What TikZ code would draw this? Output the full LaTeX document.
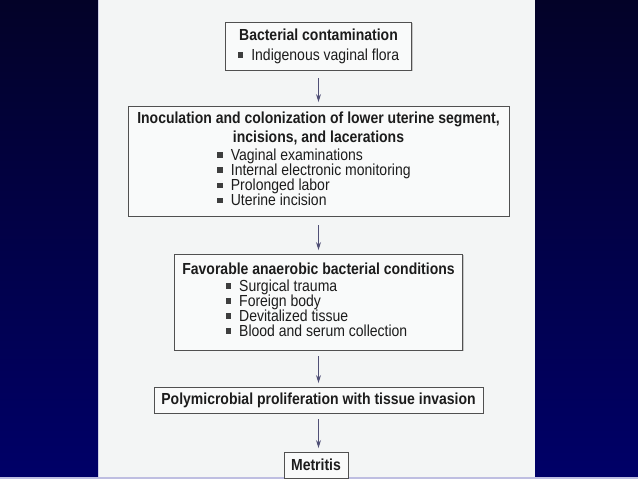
\documentclass[tikz,border=0pt]{standalone}
\usepackage{fontspec}
\setmainfont{Liberation Sans}[FakeStretch=0.875]
\usetikzlibrary{arrows.meta,shadows}
\definecolor{pagec}{RGB}{243,245,245}
\definecolor{boxfill}{RGB}{249,250,250}
\definecolor{boxline}{RGB}{80,80,80}
\definecolor{txt}{RGB}{28,28,28}
\definecolor{arr}{RGB}{80,80,118}
\definecolor{bgtop}{RGB}{3,2,40}
\definecolor{bgbot}{RGB}{0,0,104}
\definecolor{edgec}{RGB}{190,190,225}
\newcommand{\bul}{\textcolor{txt!85}{\rule[2.5pt]{5.5pt}{5.5pt}}\hspace{8pt}}
\newcommand{\li}[1]{\smash{\bul #1}}
\tikzset{
  flowbox/.style={draw=boxline, line width=0.9pt, fill=boxfill, inner sep=0pt,
    align=center, text=txt, font=\fontsize{16}{14}\selectfont,
    drop shadow={shadow xshift=1.2pt, shadow yshift=-1.2pt, fill=black!40, opacity=0.5}},
  flowarrow/.style={draw=arr, line width=0.9pt, -{Stealth[length=8pt,width=5pt]},
    shorten <=6pt, shorten >=3.5pt}
}
\begin{document}
\begin{tikzpicture}[x=1pt,y=-1pt]
\useasboundingbox (0,0) rectangle (638,479);
\shade[top color=bgtop,bottom color=bgbot] (0,0) rectangle (638,479);
\fill[pagec] (98,0) rectangle (535,476.5);
\fill[edgec] (0,476.5) rectangle (638,479);
\draw[edgec!70!pagec, line width=0.8pt] (98.4,0) -- (98.4,476.5);

\node[flowbox, minimum width=186pt, minimum height=48pt] (b1) at (318.5,46)
  {\textbf{Bacterial contamination}\\[6pt]\bul Indigenous vaginal flora};

\node[flowbox, minimum width=381pt, minimum height=110pt] (b2) at (318.5,161)
  {\textbf{Inoculation and colonization of lower uterine segment,}\\[3pt]
   \textbf{incisions, and lacerations}\\[4pt]
   \renewcommand{\arraystretch}{1.08}%
   \hspace*{-9pt}\begin{tabular}{@{}l@{}}
   \li{Vaginal examinations}\\
   \li{Internal electronic monitoring}\\
   \li{Prolonged labor}\\
   \li{Uterine incision}
   \end{tabular}};

\node[flowbox, minimum width=288pt, minimum height=96pt] (b3) at (318.5,302)
  {\textbf{Favorable anaerobic bacterial conditions}\\[5pt]
   \renewcommand{\arraystretch}{1.07}%
   \hspace*{-4pt}\begin{tabular}{@{}l@{}}
   \li{Surgical trauma}\\
   \li{Foreign body}\\
   \li{Devitalized tissue}\\
   \li{Blood and serum collection}
   \end{tabular}};

\node[flowbox, minimum width=329pt, minimum height=26pt] (b4) at (318.5,400)
  {\textbf{Polymicrobial proliferation with tissue invasion}};

\node[flowbox, minimum width=64pt, minimum height=26pt] (b5) at (316,465)
  {\textbf{Metritis}};

\draw[flowarrow, shorten <=8pt] (b1) -- (b2);
\draw[flowarrow, shorten <=9pt] (b2) -- (b3);
\draw[flowarrow] (b3) -- (b4);
\draw[flowarrow] (b4.south) -- (b4.south |- b5.north);
\end{tikzpicture}
\end{document}
